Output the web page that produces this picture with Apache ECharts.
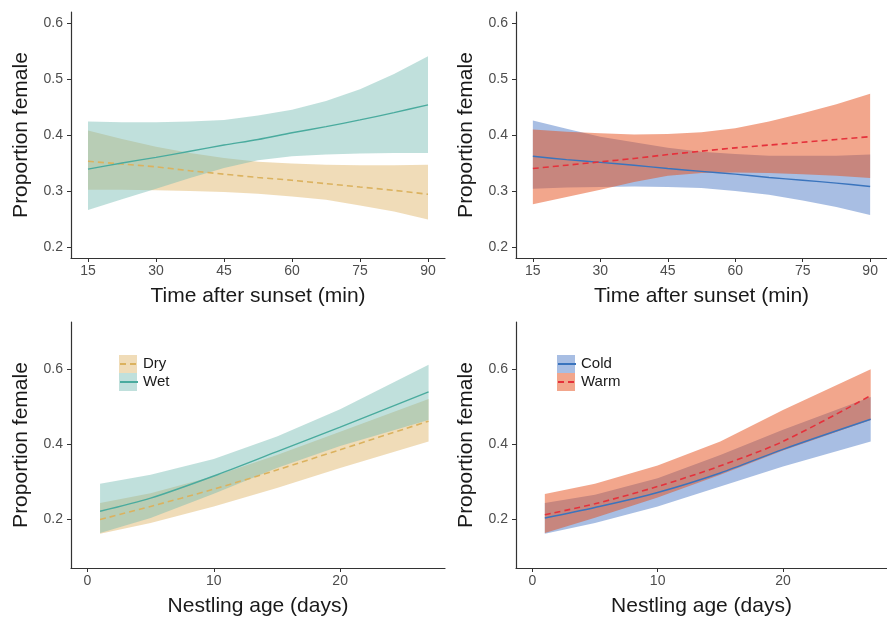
<!DOCTYPE html>
<html>
<head>
<meta charset="utf-8">
<script src="https://cdn.jsdelivr.net/npm/echarts@6/dist/echarts.min.js"></script>
<style>
  html, body { margin: 0; padding: 0; background: #fff; }
  #chart { width: 887px; height: 618px; }
</style>
</head>
<body>
<div id="chart"></div>
<script>
// --- data ---
// top row: time after sunset (min)
const timeMinutes = [15, 22.5, 30, 37.5, 45, 52.5, 60, 67.5, 75, 82.5, 90]
const timeTicks = [15, 30, 45, 60, 75, 90]

const dryTimeUpper = [0.408, 0.393, 0.379, 0.368, 0.359, 0.352, 0.349, 0.347, 0.346, 0.346, 0.347]
const dryTimeFit   = [0.353, 0.348, 0.343, 0.336, 0.330, 0.324, 0.319, 0.313, 0.307, 0.301, 0.294]
const dryTimeLower = [0.302, 0.302, 0.301, 0.300, 0.298, 0.295, 0.290, 0.284, 0.274, 0.263, 0.249]
const wetTimeUpper = [0.424, 0.423, 0.423, 0.424, 0.427, 0.435, 0.445, 0.461, 0.482, 0.509, 0.541]
const wetTimeFit   = [0.339, 0.350, 0.360, 0.371, 0.382, 0.392, 0.404, 0.415, 0.427, 0.440, 0.454]
const wetTimeLower = [0.266, 0.285, 0.304, 0.323, 0.341, 0.355, 0.362, 0.365, 0.367, 0.368, 0.368]

const coldTimeUpper = [0.426, 0.411, 0.397, 0.387, 0.377, 0.370, 0.366, 0.363, 0.363, 0.363, 0.365]
const coldTimeFit   = [0.362, 0.356, 0.351, 0.346, 0.340, 0.335, 0.330, 0.324, 0.319, 0.314, 0.308]
const coldTimeLower = [0.304, 0.306, 0.307, 0.308, 0.307, 0.305, 0.300, 0.293, 0.283, 0.271, 0.257]
const warmTimeUpper = [0.410, 0.406, 0.403, 0.401, 0.402, 0.405, 0.412, 0.424, 0.439, 0.455, 0.474]
const warmTimeFit   = [0.340, 0.346, 0.352, 0.358, 0.365, 0.371, 0.377, 0.382, 0.387, 0.392, 0.397]
const warmTimeLower = [0.276, 0.289, 0.302, 0.316, 0.327, 0.332, 0.333, 0.332, 0.330, 0.327, 0.323]

// bottom row: nestling age (days)
const ageDays = [1, 5, 10, 15, 20, 27]
const ageTicks = [0, 10, 20]

const dryAgeUpper = [0.243, 0.269, 0.314, 0.371, 0.433, 0.520]
const dryAgeFit   = [0.199, 0.234, 0.280, 0.331, 0.385, 0.461]
const dryAgeLower = [0.161, 0.190, 0.234, 0.283, 0.336, 0.407]
const wetAgeUpper = [0.294, 0.318, 0.360, 0.420, 0.493, 0.611]
const wetAgeFit   = [0.221, 0.256, 0.315, 0.380, 0.445, 0.539]
const wetAgeLower = [0.163, 0.203, 0.268, 0.336, 0.395, 0.464]

const coldAgeUpper = [0.243, 0.265, 0.309, 0.371, 0.438, 0.525]
const coldAgeFit   = [0.203, 0.231, 0.271, 0.323, 0.386, 0.466]
const coldAgeLower = [0.161, 0.190, 0.234, 0.287, 0.340, 0.407]
const warmAgeUpper = [0.267, 0.294, 0.343, 0.407, 0.491, 0.599]
const warmAgeFit   = [0.212, 0.241, 0.287, 0.342, 0.407, 0.529]
const warmAgeLower = [0.163, 0.204, 0.258, 0.318, 0.383, 0.464]

const propTicksTop = [0.2, 0.3, 0.4, 0.5, 0.6]
const propTicksBottom = [0.2, 0.4, 0.6]

// --- style ---
const FONT = '"Liberation Sans", Arial, sans-serif'
const COL = {
  dryBand: 'rgba(222,177,97,0.45)', dryLine: '#dbb25f',
  wetBand: 'rgba(115,186,177,0.45)', wetLine: '#4aab9e',
  coldBand: 'rgba(81,125,199,0.5)', coldLine: '#3a74bd',
  warmBand: 'rgba(229,77,25,0.5)', warmLine: '#e5313b'
}

const chart = echarts.init(document.getElementById('chart'), null, { renderer: 'canvas' })

const xAxis = (grid, min, max, ticks, name) => ({
  type: 'value', gridIndex: grid, min, max,
  name, nameLocation: 'middle', nameGap: 28,
  nameTextStyle: { fontFamily: FONT, fontSize: 21, color: '#1a1a1a' },
  splitLine: { show: false },
  axisLine: { onZero: false, lineStyle: { color: '#333', width: 1.2 } },
  axisTick: { customValues: ticks, length: 4, lineStyle: { color: '#333' } },
  axisLabel: { customValues: ticks, margin: 6, fontFamily: FONT, fontSize: 14, color: '#4d4d4d' }
})

const yAxis = (grid, min, max, ticks) => ({
  type: 'value', gridIndex: grid, min, max,
  name: 'Proportion female', nameLocation: 'middle', nameGap: 39,
  nameTextStyle: { fontFamily: FONT, fontSize: 21, color: '#1a1a1a' },
  splitLine: { show: false },
  axisLine: { show: true, onZero: false, lineStyle: { color: '#333', width: 1.2 } },
  axisTick: { show: true, customValues: ticks, length: 4, lineStyle: { color: '#333' } },
  axisLabel: { customValues: ticks, margin: 8, fontFamily: FONT, fontSize: 14, color: '#4d4d4d',
    formatter: v => v.toFixed(1) }
})

// confidence ribbon drawn as one polygon through the axis scales
const ribbon = (name, idx, xs, lo, hi, color) => ({
  type: 'custom', name, xAxisIndex: idx, yAxisIndex: idx,
  itemStyle: { color },
  data: xs.map((x, i) => [x, lo[i], hi[i]]),
  encode: { x: 0, y: [1, 2] },
  silent: true,
  renderItem: (params, api) => {
    if (params.dataIndex !== 0) return null
    const top = xs.map((x, i) => api.coord([x, hi[i]]))
    const bottom = xs.map((x, i) => api.coord([x, lo[i]])).reverse()
    return { type: 'polygon', shape: { points: top.concat(bottom) }, style: { fill: color } }
  }
})

const fitLine = (name, idx, xs, ys, color, dashed) => ({
  type: 'line', name, xAxisIndex: idx, yAxisIndex: idx,
  data: xs.map((x, i) => [x, ys[i]]),
  smooth: 0.3, symbol: 'none', silent: true,
  lineStyle: { color, width: dashed ? 1.6 : 1.4, type: dashed ? [6, 4] : 'solid' },
  itemStyle: { color }
})

const legendPair = (left, bands, lines) => [
  {
    left, top: 355, padding: 0, orient: 'vertical', itemWidth: 18, itemHeight: 18, itemGap: 0,
    icon: 'rect', selectedMode: false, data: bands, formatter: () => '',
    textStyle: { fontSize: 15, lineHeight: 18 }
  },
  {
    left, top: 355, padding: 0, orient: 'vertical', itemWidth: 18, itemHeight: 18, itemGap: 0,
    selectedMode: false, data: lines,
    itemStyle: { opacity: 0 },
    textStyle: { fontFamily: FONT, fontSize: 15, lineHeight: 18, color: '#1a1a1a' }
  }
]

const option = {
  animation: false,
  backgroundColor: '#fff',
  grid: [
    { left: 71, top: 12, width: 374, height: 246 },
    { left: 516, top: 12, width: 374, height: 246 },
    { left: 71, top: 322, width: 374, height: 246 },
    { left: 516, top: 322, width: 374, height: 246 }
  ],
  xAxis: [
    xAxis(0, 11.25, 93.75, timeTicks, 'Time after sunset (min)'),
    xAxis(1, 11.25, 93.75, timeTicks, 'Time after sunset (min)'),
    xAxis(2, -1.3, 28.3, ageTicks, 'Nestling age (days)'),
    xAxis(3, -1.3, 28.3, ageTicks, 'Nestling age (days)')
  ],
  yAxis: [
    yAxis(0, 0.18, 0.62, propTicksTop),
    yAxis(1, 0.18, 0.62, propTicksTop),
    yAxis(2, 0.07, 0.725, propTicksBottom),
    yAxis(3, 0.07, 0.725, propTicksBottom)
  ],
  legend: [
    ...legendPair(119, ['Dry band', 'Wet band'], ['Dry', 'Wet']),
    ...legendPair(557, ['Cold band', 'Warm band'], ['Cold', 'Warm'])
  ],
  series: [
    // top left: dry / wet
    ribbon('Dry time band', 0, timeMinutes, dryTimeLower, dryTimeUpper, COL.dryBand),
    fitLine('Dry time', 0, timeMinutes, dryTimeFit, COL.dryLine, true),
    ribbon('Wet time band', 0, timeMinutes, wetTimeLower, wetTimeUpper, COL.wetBand),
    fitLine('Wet time', 0, timeMinutes, wetTimeFit, COL.wetLine, false),
    // top right: cold / warm
    ribbon('Cold time band', 1, timeMinutes, coldTimeLower, coldTimeUpper, COL.coldBand),
    fitLine('Cold time', 1, timeMinutes, coldTimeFit, COL.coldLine, false),
    ribbon('Warm time band', 1, timeMinutes, warmTimeLower, warmTimeUpper, COL.warmBand),
    fitLine('Warm time', 1, timeMinutes, warmTimeFit, COL.warmLine, true),
    // bottom left
    ribbon('Dry band', 2, ageDays, dryAgeLower, dryAgeUpper, COL.dryBand),
    fitLine('Dry', 2, ageDays, dryAgeFit, COL.dryLine, true),
    ribbon('Wet band', 2, ageDays, wetAgeLower, wetAgeUpper, COL.wetBand),
    fitLine('Wet', 2, ageDays, wetAgeFit, COL.wetLine, false),
    // bottom right
    ribbon('Cold band', 3, ageDays, coldAgeLower, coldAgeUpper, COL.coldBand),
    fitLine('Cold', 3, ageDays, coldAgeFit, COL.coldLine, false),
    ribbon('Warm band', 3, ageDays, warmAgeLower, warmAgeUpper, COL.warmBand),
    fitLine('Warm', 3, ageDays, warmAgeFit, COL.warmLine, true)
  ]
}

chart.setOption(option)
</script>
</body>
</html>
